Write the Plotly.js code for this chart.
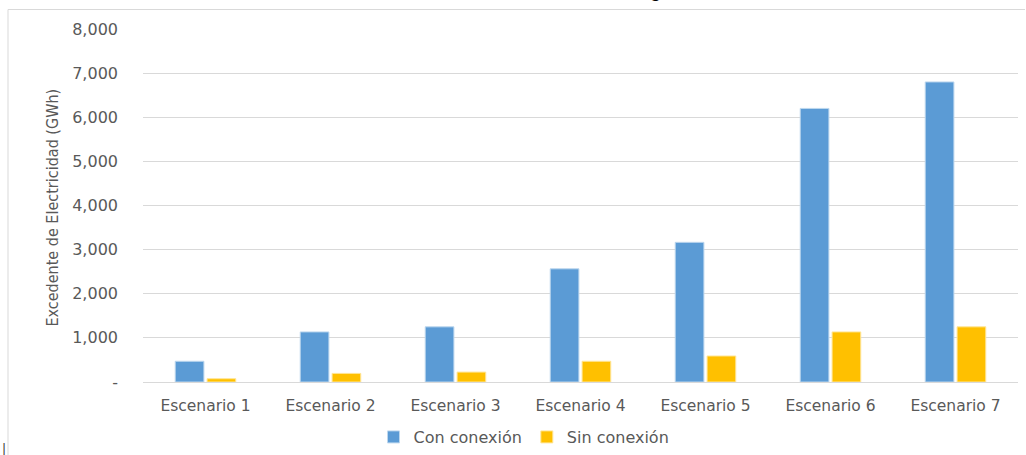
<!DOCTYPE html>
<html>
<head>
<meta charset="utf-8">
<script src="https://cdn.plot.ly/plotly-3.0.1.min.js"></script>
<style>html,body{margin:0;padding:0;background:#fff;}#chart{width:1026px;height:455px;}</style>
</head>
<body>
<div id="chart"></div>
<script>
const categories = ["Escenario 1","Escenario 2","Escenario 3","Escenario 4","Escenario 5","Escenario 6","Escenario 7"];
const conConexion = [470, 1135, 1250, 2565, 3165, 6200, 6800];
const sinConexion = [75, 195, 225, 470, 590, 1135, 1250];
const yTickVals = [0, 1000, 2000, 3000, 4000, 5000, 6000, 7000, 8000];
const yTickText = ["-", "1,000", "2,000", "3,000", "4,000", "5,000", "6,000", "7,000", "8,000"];
const seriesNames = ["Con conexión", "Sin conexión"];
const yTitle = "Excedente de Electricidad (GWh)";

const W = 1026, H = 455, L = 143, R = 8, T = 29, B = 73;
const pw = W - L - R, ph = H - T - B;
const px = x => (x - L) / pw;
const py = y => (H - B - y) / ph;

const font = "DejaVu Sans, Verdana, sans-serif";
const grey = "#595959";

const traces = [
  {type: "bar", x: categories, y: conConexion, name: seriesNames[0],
   marker: {color: "#5B9BD5", line: {color: "#BDD7EE", width: 1}}},
  {type: "bar", x: categories, y: sinConexion, name: seriesNames[1],
   marker: {color: "#FFC000", line: {color: "#FFE699", width: 1}}}
];

const layout = {
  width: W, height: H,
  margin: {l: L, r: R, t: T, b: B},
  paper_bgcolor: "#fff", plot_bgcolor: "#fff",
  barmode: "group", bargap: 0.49, bargroupgap: 0.1,
  showlegend: true,
  legend: {orientation: "h", xref: "container", yref: "container",
           x: 524 / W, xanchor: "center", y: (H - 437) / H, yanchor: "middle",
           font: {family: font, size: 16, color: grey}, itemwidth: 30, traceorder: "normal"},
  xaxis: {type: "category", showgrid: false, zeroline: false, showline: true,
          linecolor: "#D9D9D9", linewidth: 1, ticks: "", ticklabelstandoff: 9,
          automargin: false,
          tickfont: {family: font, size: 15.5, color: grey}},
  yaxis: {range: [0, 8000], tickvals: yTickVals, ticktext: yTickText,
          showgrid: true, gridcolor: "#D9D9D9", gridwidth: 1, zeroline: false,
          showline: false, ticks: "", ticklabelstandoff: 24, automargin: false,
          tickfont: {family: font, size: 16, color: grey}},
  annotations: [
    {text: yTitle, textangle: -90, xref: "paper", yref: "paper", x: px(52), y: py(207.5),
     xanchor: "center", yanchor: "middle", showarrow: false,
     font: {family: "DejaVu Sans Condensed, DejaVu Sans, sans-serif", size: 16, color: grey}},
    {text: "<b>g</b>", xref: "paper", yref: "paper", x: px(655), y: py(-9),
     xanchor: "center", yanchor: "middle", showarrow: false,
     font: {family: "Liberation Sans, Arial, sans-serif", size: 18, color: "#000"}},
    {text: "|", xref: "paper", yref: "paper", x: px(4), y: py(449),
     xanchor: "center", yanchor: "middle", showarrow: false,
     font: {family: "DejaVu Sans, sans-serif", size: 12, color: "#333"}}
  ],
  shapes: [
    {type: "line", xref: "paper", yref: "paper", x0: px(8), x1: px(1025), y0: py(9.5), y1: py(9.5),
     line: {color: "#D9D9D9", width: 1}},
    {type: "line", xref: "paper", yref: "paper", x0: px(8), x1: px(8), y0: py(9.5), y1: py(460),
     line: {color: "#D9D9D9", width: 1}}
  ]
};

Plotly.newPlot("chart", traces, layout, {displayModeBar: false, staticPlot: true});
</script>
</body>
</html>
